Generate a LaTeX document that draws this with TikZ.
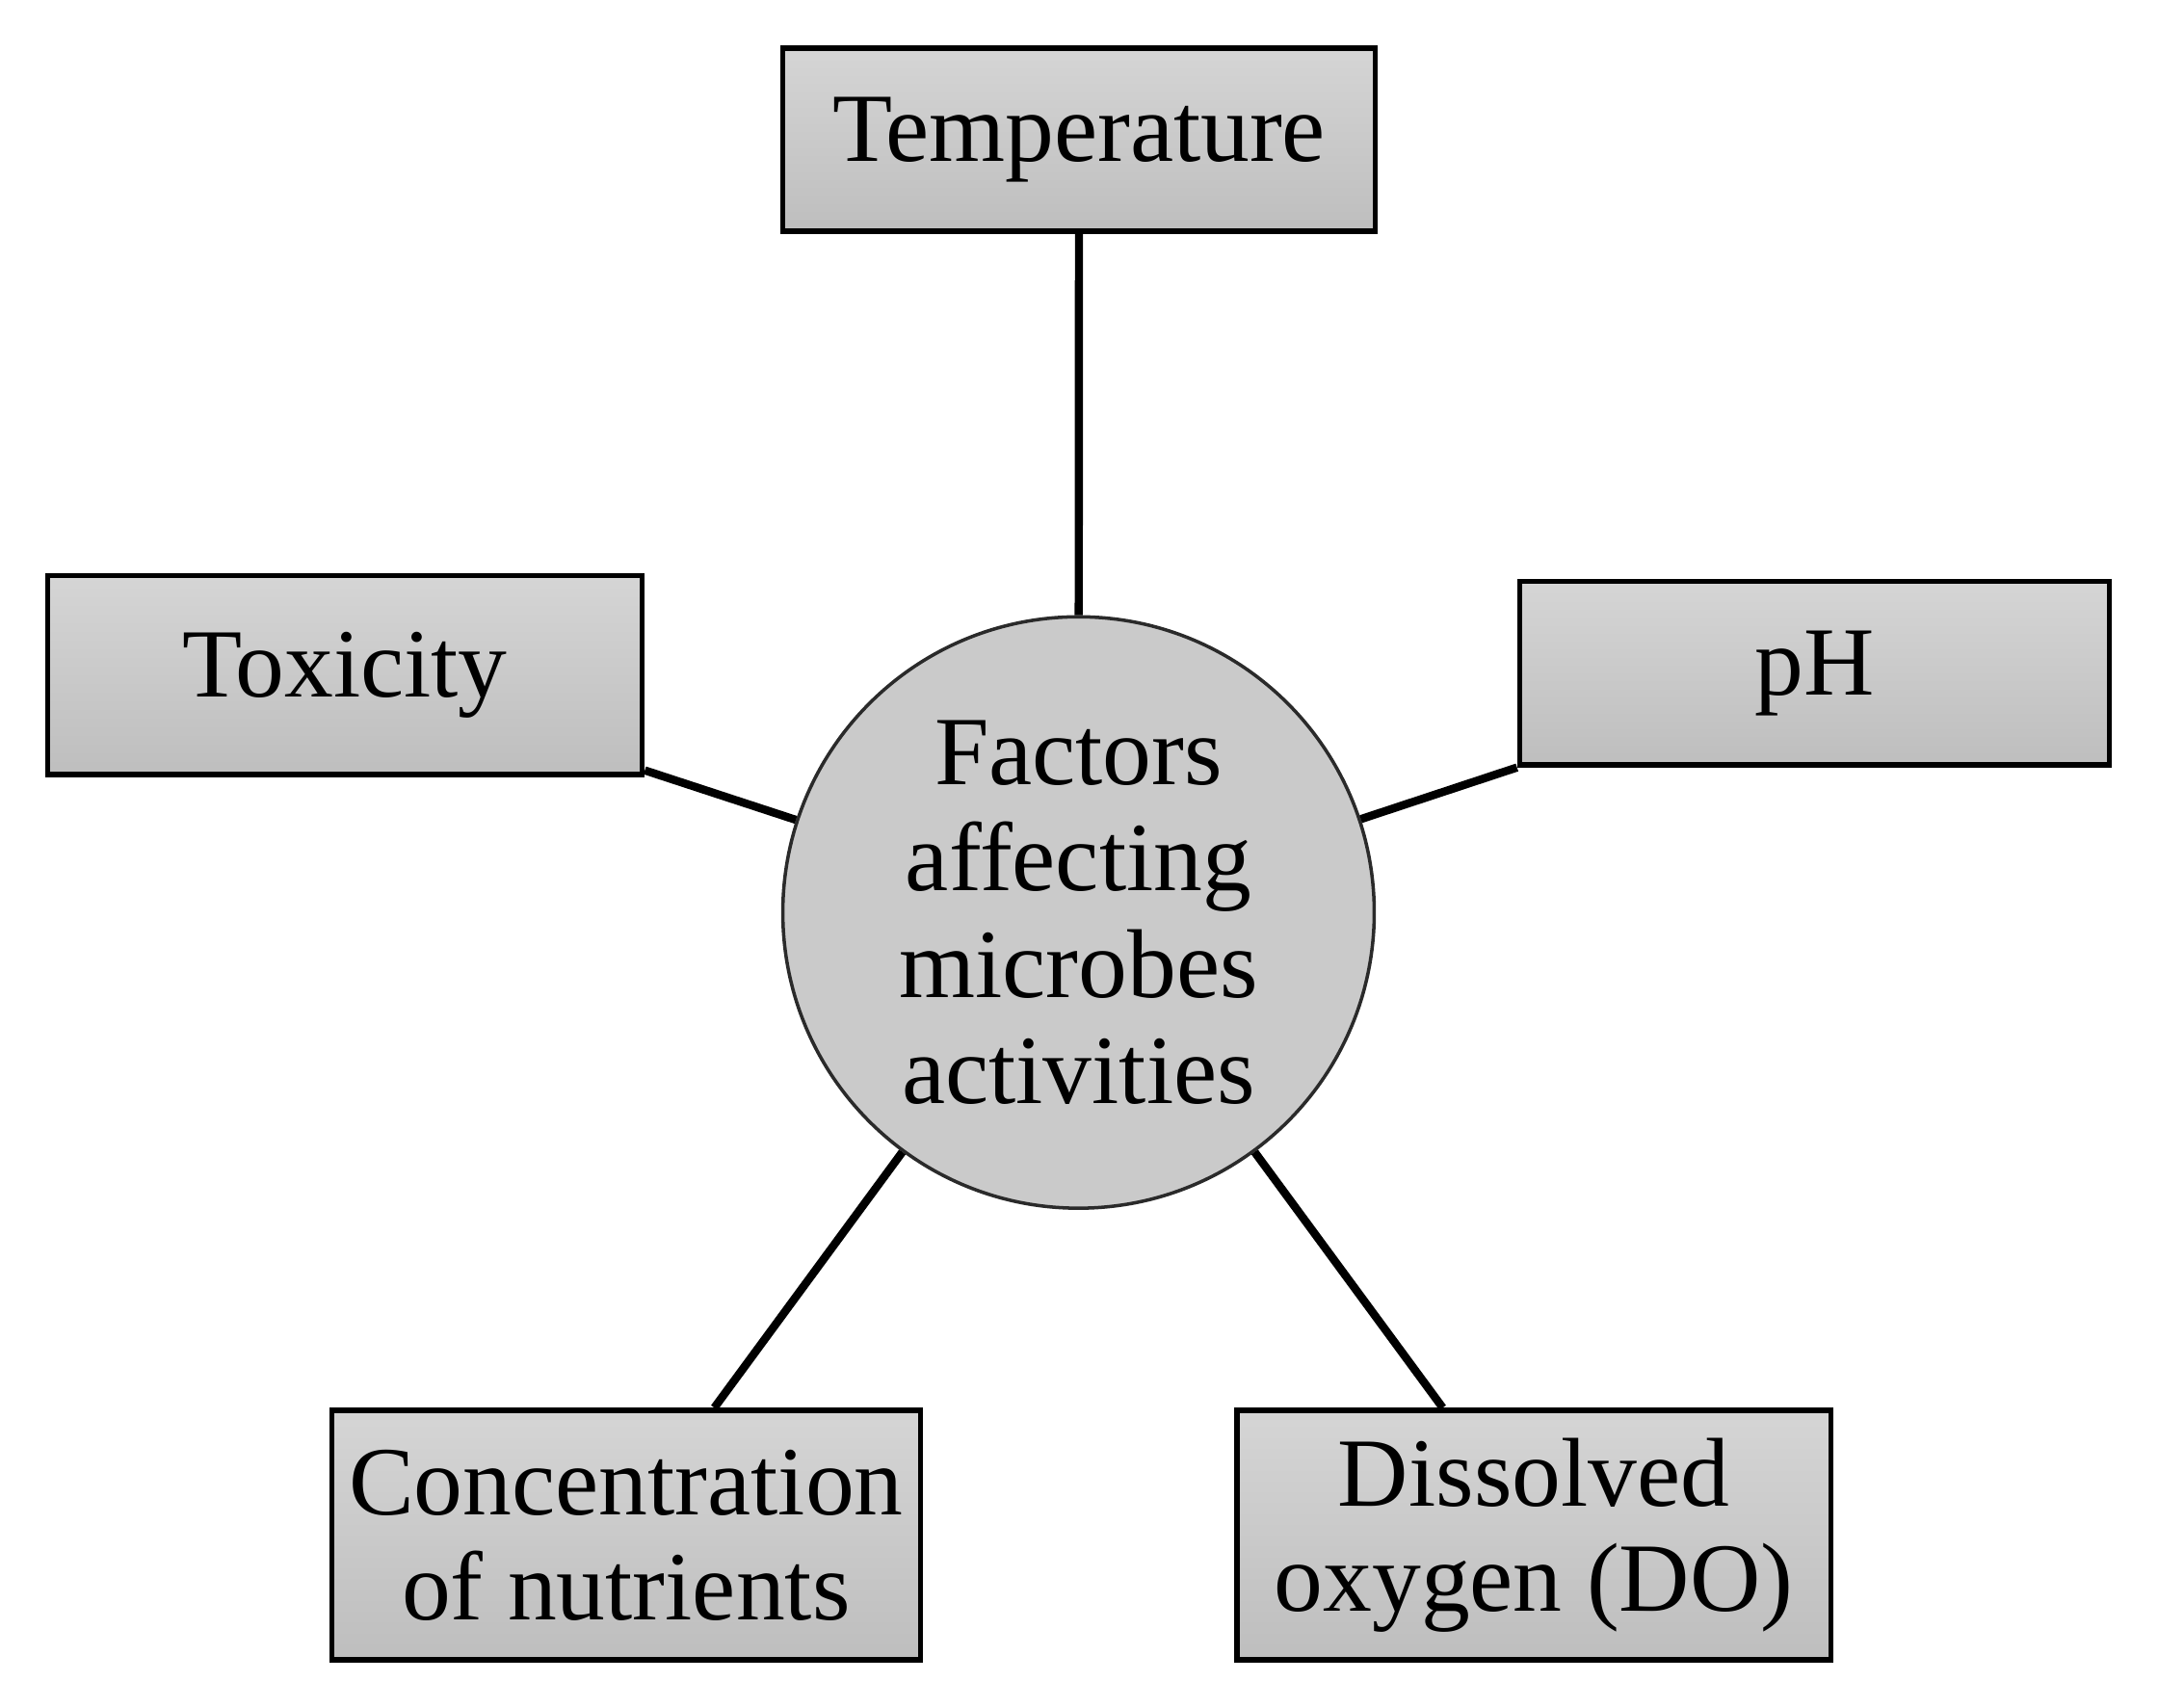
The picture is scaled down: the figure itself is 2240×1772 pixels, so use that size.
\documentclass[tikz,border=0pt]{standalone}
\usepackage{fontspec}
\setmainfont{Liberation Serif}
\usetikzlibrary{calc}
\definecolor{boxtop}{HTML}{D5D5D5}
\definecolor{boxbot}{HTML}{BEBEBE}
\definecolor{circfill}{HTML}{CACACA}
\definecolor{circline}{HTML}{2A2A2A}
\tikzset{
  factor/.style={draw=black, line width=1.6pt, top color=boxtop, bottom color=boxbot,
    align=center, inner sep=0pt, font=\fontsize{29}{31}\selectfont},
  hub/.style={circle, draw=circline, line width=1.0pt, fill=circfill, minimum size=6.16cm,
    align=center, inner sep=0pt, font=\fontsize{29}{31.5}\selectfont},
  link/.style={line width=2.4pt, black}
}
\begin{document}
\begin{tikzpicture}[x=0.01cm,y=-0.01cm]
\useasboundingbox (0,0) rectangle (2240,1772);
\begin{scope}[scale=0.996, transform shape]
\node[hub] (circ) at (1124,951) {Factors\\affecting\\microbes\\activities};
\node[factor, minimum width=6.17cm, minimum height=1.91cm] (temp) at (1124.5,145.5) {Temperature};
\node[factor, minimum width=6.19cm, minimum height=2.07cm] (tox) at (359.5,703.5) {Toxicity};
\node[factor, minimum width=6.14cm, minimum height=1.91cm] (ph) at (1891,701.5) {pH};
\node[factor, minimum width=6.13cm, minimum height=2.60cm] (conc) at (652.5,1600) {Concentration\\of nutrients};
\node[factor, minimum width=6.19cm, minimum height=2.60cm] (diss) at (1598.5,1600) {Dissolved\\oxygen (DO)};
\draw[link] (temp.south) -- (circ);
\draw[link] ($(tox.south east)+(0,-7)$) -- (circ);
\draw[link] (ph.south west) -- (circ);
\draw[link] ($(conc.north)+(92,0)$) -- (circ);
\draw[link] ($(diss.north)+(-95,0)$) -- (circ);
\end{scope}
\end{tikzpicture}
\end{document}
